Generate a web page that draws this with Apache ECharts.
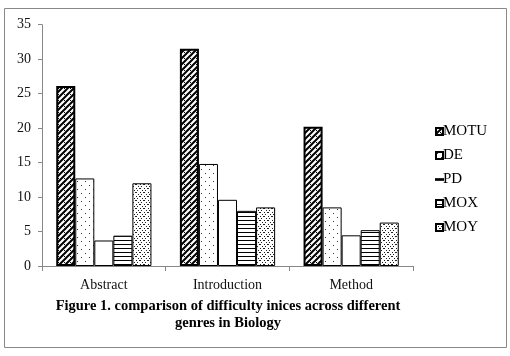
<!DOCTYPE html>
<html>
<head>
<meta charset="utf-8">
<script src="https://cdn.jsdelivr.net/npm/echarts@6/dist/echarts.min.js"></script>
<style>
  html, body { margin: 0; padding: 0; background: #fff; }
  #chart { width: 510px; height: 356px; }
</style>
</head>
<body>
<div id="chart"></div>
<script>
var categories = ['Abstract', 'Introduction', 'Method'];
var seriesNames = ['MOTU', 'DE', 'PD', 'MOX', 'MOY'];
var motu = [26.1, 31.5, 20.2];
var de = [12.7, 14.8, 8.5];
var pd = [3.7, 9.6, 4.45];
var mox = [4.4, 8.0, 5.2];
var moy = [12.0, 8.5, 6.3];
var yTicks = [0, 5, 10, 15, 20, 25, 30, 35];

// pattern tiles drawn on small canvases
function tile(size, draw) {
    var c = document.createElement('canvas');
    c.width = size; c.height = size;
    var ctx = c.getContext('2d');
    ctx.fillStyle = '#fff';
    ctx.fillRect(0, 0, size, size);
    draw(ctx, size);
    return { image: c, repeat: 'repeat' };
}

var hatch = tile(6, function (ctx, s) {
    ctx.strokeStyle = '#000';
    ctx.lineWidth = 2;
    ctx.beginPath();
    ctx.moveTo(0, s); ctx.lineTo(s, 0);
    ctx.moveTo(-s / 2, s / 2); ctx.lineTo(s / 2, -s / 2);
    ctx.moveTo(s / 2, s * 1.5); ctx.lineTo(s * 1.5, s / 2);
    ctx.stroke();
    ctx.fillStyle = '#000';
    ctx.fillRect(4, 4, 1, 1);
});
var dots = tile(8, function (ctx) {
    ctx.fillStyle = '#333';
    ctx.fillRect(1, 1, 1, 1);
    ctx.fillRect(5, 5, 1, 1);
});
var hlines = tile(4, function (ctx, s) {
    ctx.fillStyle = '#000';
    ctx.fillRect(0, 0, s, 1);
});
var diamonds = tile(8, function (ctx) {
    ctx.fillStyle = '#222';
    for (var i = 0; i < 8; i += 2) {
        ctx.fillRect(i, i, 1, 1);
        ctx.fillRect(7 - i, i, 1, 1);
    }
    ctx.fillRect(4, 0, 1, 1);
    ctx.fillRect(0, 4, 1, 1);
});

var fills = [hatch, dots, '#fff', hlines, diamonds];
var values = [motu, de, pd, mox, moy];

var chart = echarts.init(document.getElementById('chart'));
var font = 'Liberation Serif';

var series = seriesNames.map(function (name, i) {
    return {
        name: name,
        type: 'bar',
        data: values[i],
        barGap: '0%',
        barCategoryGap: '23%',
        itemStyle: {
            color: fills[i],
            borderColor: '#000',
            borderWidth: i === 0 ? 2 : 1
        },
        emphasis: { disabled: true }
    };
});

var option = {
    animation: false,
    grid: { left: 42, right: 97, top: 24.7, bottom: 90 },
    legend: {
        orient: 'vertical',
        left: 430,
        top: 119,
        itemWidth: 7,
        itemHeight: 7,
        itemGap: 9,
        textStyle: { fontFamily: font, fontSize: 15, color: '#000', padding: [0, 0, 0, -5] },
        data: [
            { name: 'MOTU', icon: 'rect' },
            { name: 'DE', icon: 'rect' },
            { name: 'PD', icon: 'path://M0,9L10,9L10,10L0,10Z' },
            { name: 'MOX', icon: 'rect' },
            { name: 'MOY', icon: 'rect' }
        ]
    },
    xAxis: {
        type: 'category',
        data: categories,
        axisLine: { lineStyle: { color: '#888' } },
        axisTick: { show: true, length: 5, lineStyle: { color: '#888' } },
        axisLabel: { fontFamily: font, fontSize: 14, color: '#111', margin: 12 }
    },
    yAxis: {
        type: 'value',
        min: 0,
        max: 35,
        interval: 5,
        axisLine: { show: true, lineStyle: { color: '#888' } },
        axisTick: { show: true, length: 4, lineStyle: { color: '#888' } },
        splitLine: { show: false },
        axisLabel: {
            fontFamily: font, fontSize: 14, color: '#111', margin: 11,
            formatter: function (v) { return yTicks.indexOf(v) >= 0 ? String(v) : ''; }
        }
    },
    graphic: [
        {
            type: 'rect',
            shape: { x: 4.5, y: 8.5, width: 502, height: 339 },
            style: { fill: 'none', stroke: '#888', lineWidth: 1 },
            silent: true
        },
        {
            type: 'text',
            x: 228,
            y: 306,
            style: {
                text: 'Figure 1. comparison of difficulty inices across different',
                fontFamily: font, fontSize: 14.5, fontWeight: 'bold', fill: '#000',
                align: 'center', verticalAlign: 'middle'
            }
        },
        {
            type: 'text',
            x: 228,
            y: 323,
            style: {
                text: 'genres in Biology',
                fontFamily: font, fontSize: 14.5, fontWeight: 'bold', fill: '#000',
                align: 'center', verticalAlign: 'middle'
            }
        }
    ],
    series: series
};
chart.setOption(option);
</script>
</body>
</html>
